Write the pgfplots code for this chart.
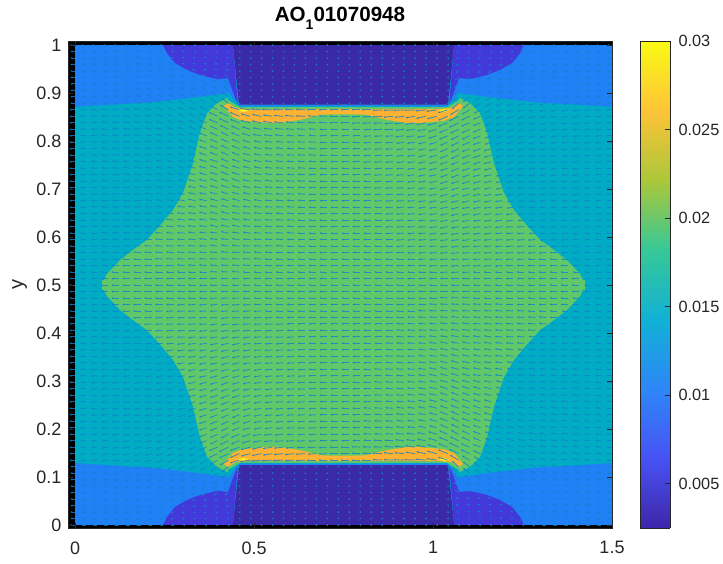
\documentclass[border=0pt]{standalone}
\usepackage{fontspec}
\setmainfont{Liberation Sans}
\usepackage{pgfplots}
\usepackage{pgfplotstable}
\pgfplotsset{compat=1.18}
\usetikzlibrary{arrows.meta}
\definecolor{cDark}{RGB}{59,42,168}
\definecolor{cIndigo}{RGB}{67,56,218}
\definecolor{cBlue}{RGB}{32,128,245}
\definecolor{cTeal}{RGB}{0,172,196}
\definecolor{cGreen}{RGB}{97,200,106}
\definecolor{cOrange}{RGB}{253,178,50}
\definecolor{cYellow}{RGB}{250,240,30}
\definecolor{cArrow}{rgb}{0.08,0.50,0.80}
\definecolor{cTick}{rgb}{0.15,0.15,0.15}
\pgfplotstableread{
x y
0 1
0 .871
.218 .881
.349 .892
.43 .9
.455 .875
.441 1
}\tBlue
\pgfplotstableread{
x y
.246 1
.257 .983
.279 .9625
.313 .948
.349 .9375
.397 .929
.427 .931
.455 .875
.441 1
}\tIndigo
\pgfplotstableread{
x y
.76 .49
.075 .49
.075 .5
.089 .523
.126 .552
.162 .573
.201 .594
.237 .623
.274 .656
.302 .692
.316 .723
.330 .754
.349 .817
.369 .858
.397 .879
.427 .890
.455 .875
.76 .875
}\tGreen
\pgfplotstableread{
x y
.427 .8938
.455 .875
.76 .875
.76 .8708
.461 .8708
.427 .8854
}\tTealStrip
\pgfplotstableread{
x y
.45 .8854
.455 .875
.76 .875
.76 .8729
.461 .8719
}\tBlueStrip
\pgfplotstableread{
x y
.416 .873
.441 .85
.469 .842
.536 .8375
.573 .8375
.628 .844
.69 .855
.76 .856
.76 .8667
.489 .8667
.45 .869
.427 .879
}\tOrange
\pgfplotstableread{
x y
.4525 .8646
.469 .8667
.486 .8625
.469 .8604
}\tYellow
% quiver field of one quadrant: j, horizontal length (px), vertical part (half px)
\pgfplotstableread{
j u0 u1 u2 u3 u4 u5 u6 u7 u8 u9 u10 u11 u12 u13 u14 u15 u16 u17 u18 u19 u20 u21 u22 u23 u24 v0 v1 v2 v3 v4 v5 v6 v7 v8 v9 v10 v11 v12 v13 v14 v15 v16 v17 v18 v19 v20 v21 v22 v23 v24
37 6 6 6 8 8 8 8 8 8 8 8 8 8 8 8 8 8 8 8 8 8 8 8 8 8 0 0 0 0 0 0 0 0 0 0 0 0 0 0 0 0 0 0 0 0 0 0 0 0 0
38 6 6 6 8 8 8 8 8 8 8 8 8 8 8 8 8 8 8 8 8 8 8 8 8 8 0 0 0 0 0 0 0 0 0 0 0 0 0 0 0 0 0 0 0 0 0 0 0 0 0
39 6 6 6 7 8 8 8 8 8 8 8 8 8 8 8 8 8 8 8 8 8 8 8 8 8 0 0 0 0 0 0 0 0 0 0 0 0 0 1 1 1 0 0 0 0 0 0 0 0 0
40 6 6 6 7 8 8 8 8 8 8 8 8 8 8 8 8 8 8 8 8 8 8 8 8 8 0 0 0 0 0 0 0 0 0 0 1 1 1 1 1 1 1 0 0 0 0 0 0 0 0
41 6 6 6 7 7 8 8 8 8 8 8 8 8 8 8 8 8 8 8 8 8 8 8 8 8 0 0 0 0 0 0 0 0 1 1 1 1 1 1 1 1 1 1 0 0 0 0 0 0 0
42 6 6 6 7 7 8 8 8 8 8 8 8 8 8 8 8 8 8 8 8 8 8 8 8 8 0 0 0 0 0 0 1 1 1 1 1 1 1 1 2 1 1 1 1 0 0 0 0 0 0
43 6 6 6 7 7 7 8 8 8 8 8 8 8 8 8 8 8 8 8 8 8 8 8 8 8 0 0 0 0 0 1 1 1 1 1 1 1 1 2 2 2 1 1 1 1 0 0 0 0 0
44 6 6 6 7 7 7 7 8 8 8 8 8 8 8 8 8 8 8 8 8 8 8 8 8 8 0 0 0 0 1 1 1 1 1 1 1 1 2 2 2 2 1 1 1 1 0 0 0 0 0
45 6 6 6 7 7 7 7 7 8 8 8 8 8 8 8 8 8 8 8 8 8 8 8 8 8 0 0 0 1 1 1 1 1 1 1 1 2 2 2 3 2 2 1 1 1 1 0 0 0 0
46 6 6 6 7 7 7 7 7 8 8 8 8 8 8 8 8 8 8 8 8 8 8 8 8 8 0 0 1 1 1 1 1 1 1 1 2 2 2 3 3 3 2 1 1 1 1 0 0 0 0
47 6 6 6 7 7 7 7 7 7 8 8 8 8 8 8 8 8 8 8 8 8 8 8 8 8 0 0 1 1 1 1 1 1 1 2 2 2 2 3 3 3 2 1 1 1 1 0 0 0 0
48 6 6 6 7 7 7 7 7 7 8 8 8 8 8 8 8 8 8 8 8 8 8 8 8 8 0 0 1 1 1 1 1 1 2 2 2 2 3 3 4 3 2 2 1 1 1 0 0 0 0
49 6 6 6 7 7 7 7 7 7 7 8 8 8 8 8 8 8 8 8 8 8 8 8 8 8 0 0 1 1 1 1 1 1 2 2 2 2 3 3 4 3 2 2 1 1 1 0 0 0 0
50 6 6 6 7 7 7 7 7 7 7 8 8 8 8 8 8 8 8 8 8 8 8 8 8 8 0 0 1 1 1 1 1 2 2 2 2 3 3 4 4 4 3 2 1 1 1 1 0 0 0
51 6 6 6 7 7 7 7 7 7 7 8 8 8 8 8 8 8 8 8 8 8 8 8 8 8 0 0 1 1 1 1 1 2 2 2 2 3 3 4 5 4 3 2 2 1 1 1 0 0 0
52 6 6 6 7 7 7 7 7 7 7 7 8 8 8 8 8 8 8 8 8 8 8 8 8 8 0 0 1 1 1 1 2 2 2 2 3 3 4 4 5 4 3 2 2 1 1 1 0 0 0
53 6 6 6 7 7 7 7 7 7 7 7 8 8 8 8 8 8 8 8 8 8 8 8 8 8 0 0 1 1 1 1 2 2 2 2 3 3 4 5 5 5 3 2 2 1 1 1 0 0 0
54 6 6 6 7 7 7 7 7 7 7 7 8 8 8 8 8 8 8 8 8 8 8 8 8 8 0 0 1 1 1 2 2 2 2 3 3 3 4 5 6 5 3 3 2 1 1 1 0 0 0
55 6 6 6 7 7 7 7 7 7 7 7 8 8 8 8 8 8 8 8 8 8 8 8 8 8 0 0 1 1 1 2 2 2 2 3 3 4 4 5 6 5 4 3 2 1 1 1 0 0 0
56 6 6 6 7 7 7 7 7 7 7 7 8 8 8 8 8 8 8 8 8 8 8 8 8 8 0 1 1 1 1 2 2 2 3 3 3 4 5 5 6 5 4 3 2 2 1 1 1 0 0
57 6 6 6 7 7 7 7 7 7 7 7 8 8 8 8 8 8 8 8 8 8 8 8 8 8 0 1 1 1 2 2 2 2 3 3 4 4 5 6 7 6 4 3 2 2 1 1 1 0 0
58 6 6 6 7 7 7 7 7 7 7 7 8 8 8 8 8 8 8 8 8 8 8 8 8 8 0 1 1 1 2 2 2 2 3 3 4 4 5 6 7 6 4 3 2 2 1 1 1 0 0
59 6 6 6 7 7 7 7 7 7 7 7 7 8 8 8 8 8 8 8 8 8 8 8 8 8 0 1 1 1 2 2 2 3 3 3 4 4 5 6 7 6 4 3 2 2 1 1 1 0 0
60 6 6 6 7 7 7 7 7 7 7 7 7 8 8 8 9 9 9 9 9 8 8 8 8 8 0 1 1 1 2 2 2 3 3 4 4 5 6 7 8 7 5 3 2 2 1 1 1 0 0
61 6 6 6 7 7 7 7 7 7 7 7 7 8 8 9 9 9 9 9 9 9 9 8 8 8 0 1 1 1 2 2 2 3 3 4 4 5 6 7 8 7 5 3 2 2 1 1 1 0 0
62 6 6 6 7 7 7 7 7 7 7 7 7 8 9 10 10 10 10 10 10 9 9 9 9 9 0 1 1 2 2 2 3 3 3 4 4 5 6 7 9 7 5 4 3 2 2 1 1 1 0
63 6 6 6 7 7 7 7 7 7 7 7 7 8 9 10 10 10 10 10 10 10 10 9 9 9 0 1 1 2 2 2 3 3 4 4 5 5 6 8 9 8 5 4 3 2 2 1 1 1 0
64 6 6 6 7 7 7 7 7 7 7 7 7 7 8 9 10 11 11 11 11 10 10 10 9 9 0 1 1 2 2 3 3 3 4 4 5 6 7 9 10 6 3 2 1 1 1 1 0 0 0
65 5 5 5 5 5 6 7 7 7 7 7 7 7 7 7 1 1 1 1 1 1 1 1 1 1 0 1 1 2 2 3 3 4 4 5 5 6 8 10 11 0 0 0 0 0 0 0 0 0 0
66 5 5 5 5 5 5 5 5 5 5 6 6 6 7 7 1 1 1 1 1 1 1 1 1 1 0 1 1 2 2 3 3 4 4 5 6 7 8 10 9 0 0 0 0 0 0 0 0 0 0
67 5 5 5 5 5 5 5 5 5 5 5 5 5 5 5 1 1 1 1 1 1 1 1 1 1 0 1 1 1 2 2 3 3 4 5 6 7 8 9 9 0 0 0 0 0 0 0 0 0 0
68 5 5 5 5 5 5 5 5 5 5 5 5 5 5 5 1 1 1 1 1 1 1 1 1 1 0 1 1 1 2 2 3 3 4 5 6 6 7 8 8 0 0 0 0 0 0 0 0 0 0
69 5 5 5 5 5 5 5 5 5 5 5 5 5 4 4 1 1 1 1 1 1 1 1 1 1 0 1 1 1 2 2 2 3 3 4 5 5 6 6 6 0 0 0 0 0 0 0 0 0 0
70 5 5 5 5 5 5 5 5 5 5 4 4 3 3 3 1 1 1 1 1 1 1 1 1 1 0 0 1 1 1 2 2 2 3 3 4 4 4 4 4 0 0 0 0 0 0 0 0 0 0
71 5 5 5 5 5 5 5 5 5 4 3 3 3 3 3 1 1 1 1 1 1 1 1 1 1 0 0 1 1 1 1 2 2 2 2 3 3 3 3 3 0 0 0 0 0 0 0 0 0 0
72 5 5 5 5 5 5 5 4 4 3 3 3 3 2 2 1 1 1 1 1 1 1 1 1 1 0 0 0 1 1 1 1 1 1 2 2 2 2 2 1 0 0 0 0 0 0 0 0 0 0
73 5 5 5 5 5 5 5 4 4 3 3 2 2 2 2 1 1 1 1 1 1 1 1 1 1 0 0 0 0 1 1 1 1 1 1 1 1 1 1 1 0 0 0 0 0 0 0 0 0 0
74 5 5 5 5 5 5 5 4 3 3 2 2 2 2 1 1 1 1 1 1 1 1 1 1 1 0 0 0 0 0 0 0 0 0 0 0 0 0 0 0 0 0 0 0 0 0 0 0 0 0
}\field
% one shape, drawn in the four mirrored places
\newcommand{\fourfill}[2]{%
  \addplot[fill=#1,draw=none] table[x=x,y=y]{#2};
  \addplot[fill=#1,draw=none] table[x expr=1.5-\thisrow{x},y=y]{#2};
  \addplot[fill=#1,draw=none] table[x=x,y expr=1-\thisrow{y}]{#2};
  \addplot[fill=#1,draw=none] table[x expr=1.5-\thisrow{x},y expr=1-\thisrow{y}]{#2};
}
\tikzset{
  arw/.style={draw=cArrow,fill=cArrow,opacity=0.8,line width=0.85pt,-{Stealth[length=2.2pt,width=2pt]}},
  tl/.style={font=\fontsize{18}{18}\selectfont,text=cTick},
  tc/.style={font=\fontsize{16.3}{16.3}\selectfont,text=cTick},
}
\pgfplotsset{
  colormap={parula}{rgb=(.2422,.1504,.6603) rgb=(.2810,.3228,.9579) rgb=(.1786,.5289,.9682) rgb=(.0689,.6948,.8394) rgb=(.2161,.7843,.5923) rgb=(.6720,.7793,.2227) rgb=(.9970,.7659,.2199) rgb=(.9769,.9839,.0805)},
}
\begin{document}
\begin{tikzpicture}[x=1pt,y=1pt]
\path[use as bounding box] (0,0) rectangle (723,564);
\begin{axis}[
  at={(68pt,36pt)},anchor=south west,scale only axis,width=544pt,height=487pt,
  xmin=-0.0196,xmax=1.5,ymin=-0.00625,ymax=1.00833,
  axis on top,
  axis line style={cTick,line width=0.5pt},
  tick style={cTick,line width=0.5pt},
  tick align=inside,major tick length=5pt,
  xtick={0,0.5,1,1.5},xticklabels={0,0.5,1,1.5},
  ytick={0,0.1,0.2,0.3,0.4,0.5,0.6,0.7,0.8,0.9,1},
  yticklabels={0,0.1,0.2,0.3,0.4,0.5,0.6,0.7,0.8,0.9,1},
  tick label style={tl},
  xticklabel style={yshift=-10pt},
  yticklabel style={xshift=-3pt},
  ylabel={y},
  ylabel style={font=\fontsize{20}{20}\selectfont,text=cTick,at={(axis description cs:-0.089,0.5)},anchor=center},
  title={\textbf{AO\raisebox{-0.7ex}{\fontsize{14}{14}\selectfont 1}01070948}},
  title style={font=\fontsize{20.6}{20.6}\selectfont,yshift=2pt,text=black},
  clip=true,
]
\addplot[fill=cTeal,draw=none] coordinates {(0,0)(1.5,0)(1.5,1)(0,1)};
\fourfill{cBlue}{\tBlue}
\fourfill{cIndigo}{\tIndigo}
\addplot[fill=cDark,draw=none] coordinates {(.441,1)(.458,.875)(1.042,.875)(1.059,1)};
\addplot[fill=cDark,draw=none] coordinates {(.441,0)(.458,.125)(1.042,.125)(1.059,0)};
\fourfill{cGreen}{\tGreen}
\fourfill{cTeal}{\tTealStrip}
\fourfill{cBlue}{\tBlueStrip}
\fourfill{cOrange}{\tOrange}
\fourfill{cYellow}{\tYellow}
\addplot[fill=black,draw=none] coordinates {(-0.0196,-0.00625)(0,-0.00625)(0,1.00833)(-0.0196,1.00833)};
\addplot[fill=black,draw=none] coordinates {(0,1)(1.5,1)(1.5,1.00833)(0,1.00833)};
\addplot[fill=black,draw=none] coordinates {(0,0)(1.5,0)(1.5,-0.00625)(0,-0.00625)};
\pgfplotsinvokeforeach{0,...,24}{
  \addplot[arw,quiver={u=-\thisrow{u#1}/380,v=\thisrow{v#1}/960}]
    table[x expr=#1*1.5/49,y expr=\thisrow{j}/74]{\field};
  \addplot[arw,quiver={u=-\thisrow{u#1}/380,v=-\thisrow{v#1}/960}]
    table[x expr=(49-#1)*1.5/49,y expr=\thisrow{j}/74]{\field};
  \addplot[arw,restrict y to domain=-1:0.495,quiver={u=-\thisrow{u#1}/380,v=-\thisrow{v#1}/960}]
    table[x expr=#1*1.5/49,y expr=(74-\thisrow{j})/74]{\field};
  \addplot[arw,restrict y to domain=-1:0.495,quiver={u=-\thisrow{u#1}/380,v=\thisrow{v#1}/960}]
    table[x expr=(49-#1)*1.5/49,y expr=(74-\thisrow{j})/74]{\field};
}
\end{axis}
\begin{axis}[
  at={(640pt,36pt)},anchor=south west,scale only axis,width=30pt,height=487pt,
  xmin=0,xmax=1,ymin=0.0025,ymax=0.03,
  view={0}{90},axis on top,
  xtick=\empty,
  ytick={0.005,0.01,0.015,0.02,0.025,0.03},
  yticklabels={0.005,0.01,0.015,0.02,0.025,0.03},
  scaled y ticks=false,
  ytick pos=right,yticklabel pos=right,
  axis line style={cTick,line width=0.5pt},
  tick style={cTick,line width=0.5pt},
  tick align=inside,major tick length=5pt,
  tick label style={tc},
  yticklabel style={xshift=5pt,anchor=west},
  point meta min=0.0025,point meta max=0.03,
]
\addplot3[surf,shader=interp,point meta=y] coordinates {
(0,0.0025,0) (1,0.0025,0)

(0,0.03,0) (1,0.03,0)
};
\end{axis}
\end{tikzpicture}
\end{document}
